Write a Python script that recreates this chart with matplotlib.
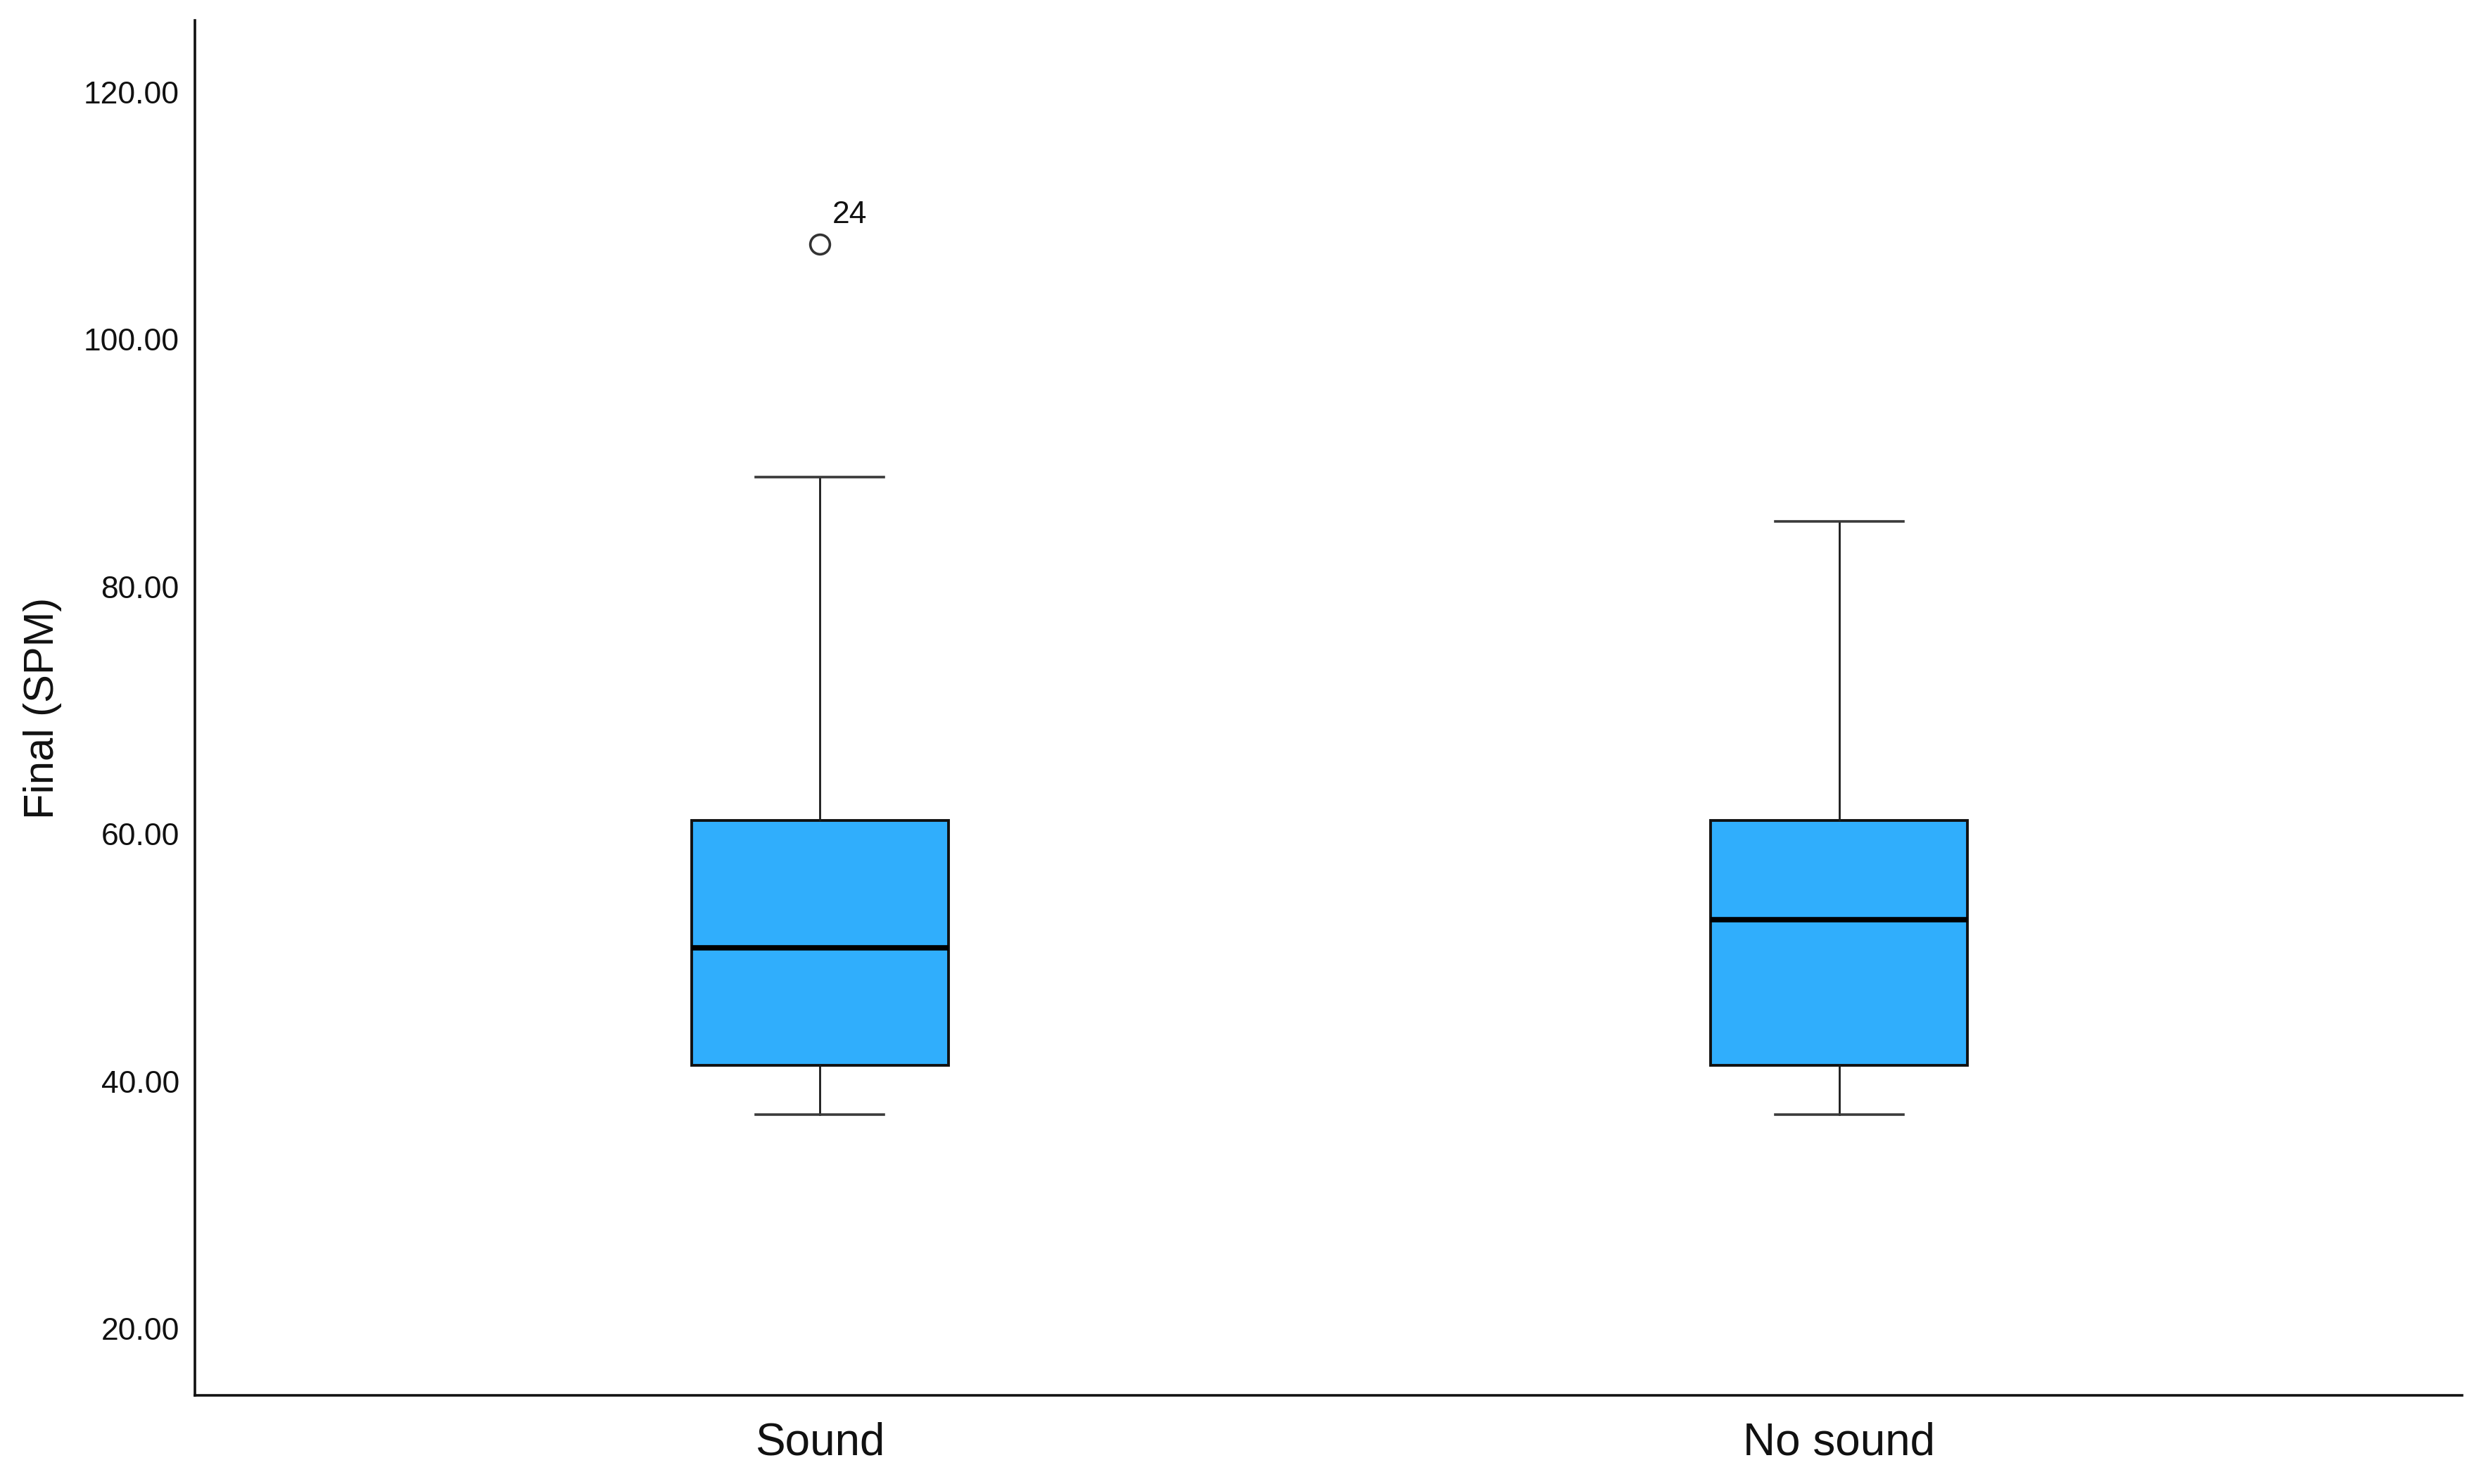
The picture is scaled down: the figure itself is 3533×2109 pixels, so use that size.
import matplotlib
matplotlib.use("Agg")
import matplotlib.pyplot as plt

plt.rcParams['font.family'] = ['Liberation Sans', 'DejaVu Sans']

# Data
categories = ["Sound", "No sound"]
q1 = [41.3, 41.3]
median = [50.8, 53.1]
q3 = [61.1, 61.1]
whisker_low = [37.3, 37.3]
whisker_high = [88.9, 85.3]
outliers = [[107.7], []]
outlier_labels = [["24"], []]
yticks = [20, 40, 60, 80, 100, 120]

fig = plt.figure(figsize=(35.33, 21.09), dpi=100)
ax = fig.add_axes([0.0784, 0.0597, 0.9904 - 0.0784, 0.9862 - 0.0597])

stats = []
for i, c in enumerate(categories):
    stats.append(dict(label=c, q1=q1[i], med=median[i], q3=q3[i],
                      whislo=whisker_low[i], whishi=whisker_high[i],
                      fliers=outliers[i]))

positions = [1, 2]
ax.bxp(stats, positions=positions, widths=0.252, patch_artist=True,
       boxprops=dict(facecolor='#30AEFC', edgecolor='#111111', linewidth=2.8),
       medianprops=dict(color='black', linewidth=5.5),
       whiskerprops=dict(color='#1a1a1a', linewidth=2.0),
       capprops=dict(color='#3a3a3a', linewidth=2.6),
       flierprops=dict(marker='o', markersize=20, markerfacecolor='none',
                       markeredgecolor='#333333', markeredgewidth=2.6))

for i, labs in enumerate(outlier_labels):
    for v, lab in zip(outliers[i], labs):
        ax.annotate(lab, xy=(positions[i], v), xytext=(13, 22),
                    textcoords='offset points', ha='left', va='baseline',
                    fontsize=32, color='#111111')

ax.set_xlim(0.387, 2.611)
ax.set_ylim(14.6, 125.8)
ax.set_yticks(yticks)
ax.set_yticklabels([f"{t:.2f}" for t in yticks])
ax.tick_params(axis='y', length=0, pad=16, labelsize=32, labelcolor='#111111')
ax.tick_params(axis='x', length=0, pad=27, labelsize=46, labelcolor='#111111')
ax.set_xticks(positions)
ax.set_xticklabels(categories)

ax.set_ylabel("Final (SPM)", fontsize=43, color='#111111')
ax.yaxis.set_label_coords(-0.0588, 0.5)

for s in ['top', 'right']:
    ax.spines[s].set_visible(False)
for s in ['left', 'bottom']:
    ax.spines[s].set_linewidth(2.6)
    ax.spines[s].set_color('#111111')

fig.savefig("out.png", dpi=100, facecolor='white')
